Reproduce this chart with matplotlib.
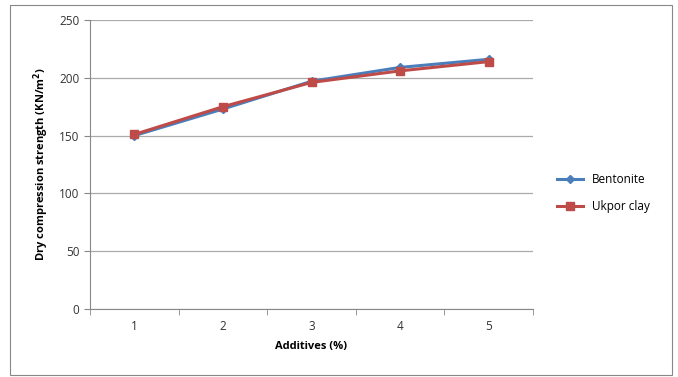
import matplotlib
matplotlib.use("Agg")
import matplotlib.pyplot as plt
from matplotlib.patches import Rectangle

additives = [1, 2, 3, 4, 5]
bentonite = [150, 173, 197, 209, 216]
ukpor_clay = [151, 175, 196, 206, 214]
y_ticks = [0, 50, 100, 150, 200, 250]

plt.rcParams['font.family'] = ['Open Sans', 'DejaVu Sans']

fig = plt.figure(figsize=(6.78, 3.77), dpi=100)
fig.patches.append(Rectangle((10/678, 2/377), 662/678, 370/377, transform=fig.transFigure,
                             fill=False, edgecolor='#888888', linewidth=0.8))
ax = fig.add_axes([90/678, 1-309/377, 443/678, 289/377])

ax.plot(additives, bentonite, color='#4A7EBB', linewidth=2.2, marker='D', markersize=4.5,
        label='Bentonite', zorder=3)
ax.plot(additives, ukpor_clay, color='#BE4B48', linewidth=2.2, marker='s', markersize=6,
        label='Ukpor clay', zorder=4)

ax.set_xlim(0.5, 5.5)
ax.set_ylim(0, 250)
ax.set_yticks(y_ticks)
ax.set_xticks(additives)
ax.set_xticks([0.5, 1.5, 2.5, 3.5, 4.5, 5.5], minor=True)
ax.tick_params(axis='x', which='major', length=0, pad=8, labelsize=8.5, colors='#333333')
ax.tick_params(axis='x', which='minor', length=4, color='#888888')
ax.tick_params(axis='y', length=4, color='#888888', labelsize=8.5, labelcolor='#333333')
ax.grid(axis='y', color='#AAAAAA', linewidth=0.9)
ax.set_axisbelow(True)
for s in ['top', 'right']:
    ax.spines[s].set_visible(False)
for s in ['left', 'bottom']:
    ax.spines[s].set_color('#888888')

ax.set_xlabel('Additives (%)', fontsize=8, fontweight='bold', labelpad=6)
ax.set_ylabel('Dry compression strength (KN/m$^\\mathbf{2}$)', fontsize=8, fontweight='bold', labelpad=6)

ax.legend(loc='center left', bbox_to_anchor=(1.03, 0.40), frameon=False, fontsize=8.5,
          handlelength=2.2, labelspacing=1.2)

fig.savefig('out.png', dpi=100)
